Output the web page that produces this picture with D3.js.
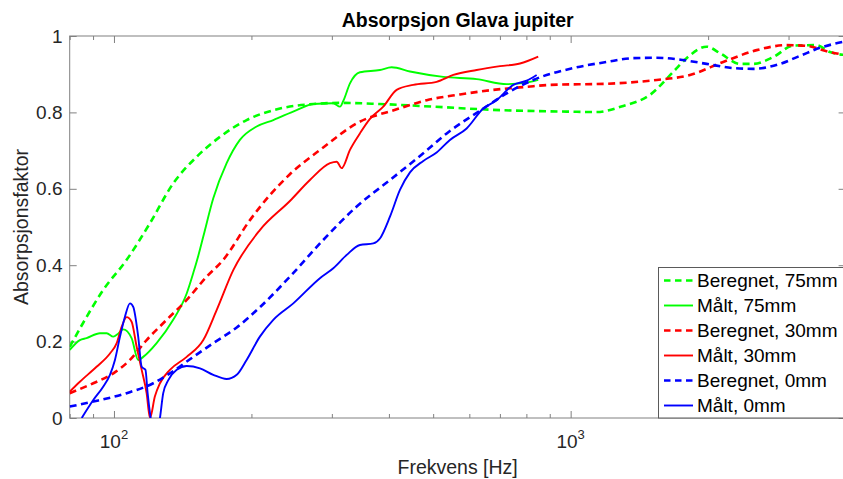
<!DOCTYPE html>
<html><head><meta charset="utf-8">
<script src="https://cdn.jsdelivr.net/npm/d3@7"></script>
<style>body{margin:0;background:#fff}svg{display:block;font-family:"Liberation Sans",Arial,sans-serif}</style>
</head><body><svg id="c" width="843" height="479"></svg>
<script>
const title = "Absorpsjon Glava jupiter";
const xLabel = "Frekvens [Hz]";
const yLabel = "Absorpsjonsfaktor";
const yTicks = [0, 0.2, 0.4, 0.6, 0.8, 1];
const yTickLabels = ["0", "0.2", "0.4", "0.6", "0.8", "1"];
const xMajorTicks = [100, 1000];
const xMajorExponents = ["2", "3"];
const xMinorTicks = [80, 90, 200, 300, 400, 500, 600, 700, 800, 900, 2000, 3000, 4000];
const seriesNames = ["Beregnet, 75mm", "Målt, 75mm", "Beregnet, 30mm", "Målt, 30mm", "Beregnet, 0mm", "Målt, 0mm"];

// [frequency Hz, absorption factor]
const beregnet75 = [[80,0.186],[85.7,0.25],[94.7,0.335],[106.6,0.414],[119.9,0.51],[134.8,0.614],[151.8,0.684],[170.7,0.736],[195.2,0.78],[230.9,0.81],[273.2,0.822],[312.6,0.825],[382.3,0.822],[500.2,0.815],[700.3,0.806],[980,0.802],[1140,0.801],[1304,0.817],[1492,0.846],[1677,0.906],[1794,0.942],[1985,0.972],[2123,0.955],[2348,0.927],[2510,0.927],[2778,0.945],[3074,0.975],[3456,0.976],[3697,0.958],[4000,0.95]];
const maalt75 = [[80,0.178],[84.2,0.204],[87.1,0.209],[93.2,0.222],[96.4,0.222],[99.7,0.213],[102,0.22],[104.8,0.232],[109.3,0.209],[113,0.152],[115.9,0.16],[124,0.196],[134.8,0.257],[144.3,0.326],[149.2,0.38],[153,0.425],[156.9,0.475],[165,0.575],[176.5,0.667],[188.7,0.728],[205.3,0.763],[223.3,0.78],[251.2,0.806],[273.2,0.822],[302.2,0.824],[312.6,0.815],[317.8,0.83],[328.7,0.876],[345.6,0.905],[382.3,0.911],[405.5,0.918],[444.8,0.907],[526,0.893],[622.6,0.887],[724.4,0.874],[801.1,0.878],[849.2,0.885]];
const beregnet30 = [[80,0.065],[90.1,0.091],[99.7,0.117],[108.4,0.152],[117.9,0.204],[130.4,0.257],[144.3,0.309],[159.6,0.37],[173.5,0.414],[198.5,0.518],[220,0.585],[242.8,0.638],[287.2,0.708],[339.6,0.771],[415.9,0.808],[484,0.832],[572.3,0.847],[676.9,0.859],[801,0.867],[900.6,0.872],[1199,0.875],[1543,0.885],[1825,0.898],[2158,0.932],[2555,0.963],[2972,0.976],[3287,0.974],[3636,0.96],[4000,0.95]];
const maalt30 = [[80,0.069],[84.2,0.095],[91.6,0.134],[98,0.169],[101.4,0.196],[104,0.239],[106.6,0.264],[109.3,0.252],[112.1,0.187],[115,0.126],[117.9,0.065],[119.9,0.0],[122.9,0.056],[126.1,0.091],[132.6,0.126],[144.3,0.16],[156.9,0.204],[167.9,0.283],[182.5,0.387],[208.7,0.492],[242.8,0.568],[268.6,0.623],[297.2,0.667],[307.4,0.671],[315.2,0.654],[328.7,0.702],[345.6,0.745],[363.5,0.783],[388.8,0.815],[415.9,0.859],[452.2,0.872],[508.8,0.88],[553.4,0.898],[622.6,0.911],[700.3,0.921],[774.6,0.928],[849.2,0.946]];
const beregnet0 = [[80,0.03],[90.1,0.043],[106.6,0.065],[121.9,0.091],[132.6,0.117],[149.2,0.16],[165,0.196],[185.7,0.237],[208.7,0.29],[242.8,0.37],[287.2,0.466],[339.6,0.553],[402.1,0.623],[475.7,0.693],[535.4,0.745],[643.6,0.81],[724.4,0.85],[828.1,0.885],[1013,0.916],[1199,0.932],[1371,0.942],[1543,0.943],[1764,0.937],[1985,0.927],[2270,0.916],[2510,0.914],[2873,0.927],[3178,0.948],[3515,0.969],[4000,0.986]];
const maalt0 = [[85,0],[90.1,0.047],[94.7,0.082],[98,0.113],[100.5,0.152],[103.1,0.213],[105.7,0.265],[108.4,0.3],[110.2,0.291],[113,0.213],[115,0.134],[117.2,0.126],[118.5,0.065],[120.3,0],[123,-0.06],[126.1,0],[128.2,0.065],[131.5,0.099],[137.2,0.126],[144.3,0.136],[154.3,0.13],[165,0.113],[176.5,0.102],[185.7,0.113],[195.2,0.152],[208.7,0.213],[223.3,0.257],[247,0.3],[282.5,0.366],[302.2,0.392],[323.3,0.427],[345.6,0.453],[369.7,0.457],[382.3,0.47],[402.1,0.527],[422.9,0.597],[444.8,0.643],[475.7,0.673],[508.8,0.695],[544.1,0.728],[591.9,0.758],[643.6,0.81],[688.7,0.832],[748.8,0.872],[801.1,0.883],[842.5,0.898]];

const seriesData = [beregnet75, maalt75, beregnet30, maalt30, beregnet0, maalt0];
const seriesColors = ["#00ff00", "#00ff00", "#ff0000", "#ff0000", "#0000ff", "#0000ff"];
const seriesDashed = [true, false, true, false, true, false];

const svg = d3.select("#c");
const L = 69.7, R = 845.6, T = 36, B = 418;
const x = d3.scaleLog().domain([80, 4000]).range([L, R]);
const y = d3.scaleLinear().domain([0, 1]).range([B, T]);
const axisColor = "#808080", textColor = "#262626";

svg.append("defs").append("clipPath").attr("id", "clip")
  .append("rect").attr("x", L).attr("y", T).attr("width", R - L).attr("height", B - T);

svg.append("rect").attr("x", L).attr("y", T).attr("width", R - L).attr("height", B - T)
  .attr("fill", "none").attr("stroke", axisColor).attr("stroke-width", 1);

function styleAxis(g) {
  g.select(".domain").remove();
  g.selectAll(".tick line").attr("stroke", axisColor);
  g.selectAll(".tick text").remove();
}
svg.append("g").attr("transform", `translate(0,${B})`).call(d3.axisBottom(x).tickValues(xMajorTicks).tickSize(-7)).call(styleAxis);
svg.append("g").attr("transform", `translate(0,${B})`).call(d3.axisBottom(x).tickValues(xMinorTicks).tickSize(-4)).call(styleAxis);
svg.append("g").attr("transform", `translate(0,${T})`).call(d3.axisTop(x).tickValues(xMajorTicks).tickSize(-7)).call(styleAxis);
svg.append("g").attr("transform", `translate(0,${T})`).call(d3.axisTop(x).tickValues(xMinorTicks).tickSize(-4)).call(styleAxis);
svg.append("g").attr("transform", `translate(${L},0)`).call(d3.axisLeft(y).tickValues(yTicks).tickSize(-7)).call(styleAxis);
svg.append("g").attr("transform", `translate(${R},0)`).call(d3.axisRight(y).tickValues(yTicks).tickSize(-7)).call(styleAxis);

svg.append("g").selectAll("text").data(yTicks).join("text")
  .attr("x", 62.5).attr("y", d => y(d)).attr("dy", "0.35em")
  .attr("text-anchor", "end").attr("font-size", 19).attr("fill", textColor)
  .text((d, i) => yTickLabels[i]);

const xl = svg.append("g").selectAll("text").data(xMajorTicks).join("text")
  .attr("x", d => x(d)).attr("y", 448).attr("text-anchor", "middle")
  .attr("font-size", 19).attr("fill", textColor);
xl.append("tspan").text("10");
xl.append("tspan").attr("dy", -9).attr("font-size", 13).text((d, i) => xMajorExponents[i]);

svg.append("text").attr("x", (L + R) / 2).attr("y", 26.5).attr("text-anchor", "middle")
  .attr("font-size", 19.5).attr("font-weight", "bold").attr("fill", "#000").text(title);
svg.append("text").attr("x", (L + R) / 2).attr("y", 474).attr("text-anchor", "middle")
  .attr("font-size", 19.5).attr("fill", textColor).text(xLabel);
svg.append("text").attr("transform", `translate(28,${(T + B) / 2}) rotate(-90)`)
  .attr("text-anchor", "middle").attr("font-size", 19.5).attr("fill", textColor).text(yLabel);

const line = d3.line().x(d => x(d[0])).y(d => y(d[1])).curve(d3.curveMonotoneX);
const plot = svg.append("g").attr("clip-path", "url(#clip)");
seriesData.forEach((data, i) => {
  plot.append("path").datum(data).attr("d", line).attr("fill", "none")
    .attr("stroke", seriesColors[i])
    .attr("stroke-width", seriesDashed[i] ? 2.6 : 1.9)
    .attr("stroke-dasharray", seriesDashed[i] ? "7,4.5" : null)
    .attr("stroke-linejoin", "round");
});

const lg = svg.append("g");
lg.append("rect").attr("x", 658.5).attr("y", 267.5).attr("width", 200).attr("height", 150.5)
  .attr("fill", "#fff").attr("stroke", "#5a5a5a").attr("stroke-width", 1);
seriesNames.forEach((name, i) => {
  const ry = 280.5 + i * 25;
  lg.append("line").attr("x1", 664).attr("x2", 693).attr("y1", ry).attr("y2", ry)
    .attr("stroke", seriesColors[i]).attr("stroke-width", seriesDashed[i] ? 2.6 : 1.9)
    .attr("stroke-dasharray", seriesDashed[i] ? "6.5,4.5" : null);
  lg.append("text").attr("x", 697).attr("y", ry).attr("dy", "0.35em")
    .attr("font-size", 19).attr("fill", "#000").text(name);
});
</script></body></html>
